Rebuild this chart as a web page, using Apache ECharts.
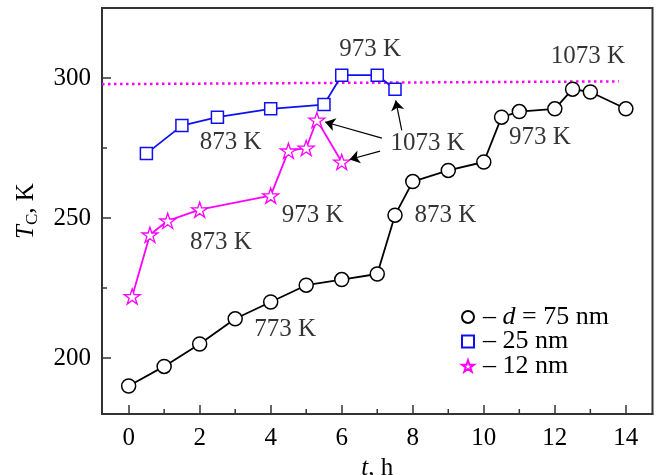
<!DOCTYPE html>
<html>
<head>
<meta charset="utf-8">
<script src="https://cdn.jsdelivr.net/npm/echarts@6/dist/echarts.min.js"></script>
<style>html,body{margin:0;padding:0;background:#fff;}#c{width:656px;height:475px;}</style>
</head>
<body>
<div id="c"></div>
<script>
// d = 75 nm
const tBlack = [0, 1, 2, 3, 4, 5, 6, 7, 7.5, 8, 9, 10, 10.5, 11, 12, 12.5, 13, 14];
const tcBlack = [190, 197, 205, 214, 220, 226, 228, 230, 251, 263, 267, 270, 286, 288, 289, 296, 295, 289];
// 25 nm
const tBlue = [0.5, 1.5, 2.5, 4, 5.5, 6, 7, 7.5];
const tcBlue = [273, 283, 286, 289, 290.5, 301, 301, 296];
// 12 nm
const tMag = [0.1, 0.6, 1.1, 2, 4, 4.5, 5, 5.3, 6];
const tcMag = [222, 244, 249, 253, 258, 274, 275, 285, 270];
// dotted reference line
const tRef = [-0.75, 13.8];
const tcRef = [297.8, 298.8];
// axis ticks
const xMajor = [0, 2, 4, 6, 8, 10, 12, 14];
const xMinor = [1, 3, 5, 7, 9, 11, 13];
const yMajor = [200, 250, 300];
const yMinor = [225, 275];
// annotations
const annText = ['973 K', '1073 K', '873 K', '1073 K', '973 K', '873 K', '773 K', '873 K', '973 K'];
const annX = [6.8, 12.93, 2.87, 8.42, 5.18, 2.6, 4.41, 8.92, 11.58];
const annY = [310.2, 307.7, 277.1, 276.6, 251, 241.4, 210.1, 251, 278.9];
// arrows (from label to point)
const arrowFrom = [[7.69, 281.3], [7.13, 278.5], [7.08, 273.9]];
const arrowTo = [[7.52, 292], [5.53, 284.3], [6.22, 270.9]];

const X_MIN = -0.75, X_MAX = 14.75, Y_MIN = 180, Y_MAX = 325;
const STAR = 'path://M50 0 L61.23 34.55 L97.55 34.55 L68.17 55.9 L79.39 90.45 L50 69.1 L20.61 90.45 L31.83 55.9 L2.45 34.55 L38.77 34.55 Z';
const FONT = 'Liberation Serif';
const INK = '#000';
const FRAME = '#333';
const zip = (a, b) => a.map((v, i) => [v, b[i]]);

const chart = echarts.init(document.getElementById('c'), null, {renderer: 'canvas'});
chart.setOption({
  animation: false,
  textStyle: {fontFamily: FONT},
  grid: {left: 102, top: 8, right: 3.5, bottom: 61, show: true, borderColor: FRAME, borderWidth: 2,
    backgroundColor: 'transparent', containLabel: false, outerBoundsMode: 'none'},
  xAxis: {
    type: 'value', min: X_MIN, max: X_MAX,
    axisLine: {show: true, onZero: false, lineStyle: {color: FRAME, width: 2}},
    splitLine: {show: false},
    name: '{i|t}{n|, h}', nameLocation: 'middle', nameGap: 33,
    nameTextStyle: {fontFamily: FONT, fontSize: 25, color: INK,
      rich: {i: {fontStyle: 'italic', fontFamily: FONT, fontSize: 25, color: INK}, n: {fontFamily: FONT, fontSize: 25, color: INK}}},
    axisTick: {show: true, inside: true, length: 9, lineStyle: {color: FRAME, width: 1.5}, customValues: xMajor},
    axisLabel: {show: true, margin: 12, fontFamily: FONT, fontSize: 25, color: INK, customValues: xMajor}
  },
  yAxis: {
    type: 'value', min: Y_MIN, max: Y_MAX,
    axisLine: {show: true, onZero: false, lineStyle: {color: FRAME, width: 2}},
    splitLine: {show: false},
    name: '{i|T}{s|C}{n|, K}', nameLocation: 'middle', nameGap: 61, nameRotate: 90,
    nameTextStyle: {fontFamily: FONT, fontSize: 25, color: INK,
      rich: {
        i: {fontStyle: 'italic', fontFamily: FONT, fontSize: 25, color: INK},
        s: {fontFamily: FONT, fontSize: 17, color: INK, padding: [12, 0, 0, 0]},
        n: {fontFamily: FONT, fontSize: 25, color: INK}
      }},
    axisTick: {show: true, inside: true, length: 9, lineStyle: {color: FRAME, width: 1.5}, customValues: yMajor},
    axisLabel: {show: true, margin: 11, fontFamily: FONT, fontSize: 25, color: INK, customValues: yMajor}
  },
  legend: {
    orient: 'vertical', left: 461, top: 304, padding: 0, itemGap: -1.5, itemWidth: 12, itemHeight: 12,
    selectedMode: false,
    data: [{name: 'd75', icon: 'circle'}, {name: 'd25', icon: 'rect'}, {name: 'd12', icon: STAR}],
    formatter: function (n) {
      if (n === 'd75') return '{n|– }{i|d}{n| = 75 nm}';
      if (n === 'd25') return '{n|– 25 nm}';
      return '{n|– 12 nm}';
    },
    textStyle: {fontFamily: FONT, fontSize: 26, color: INK, lineHeight: 22, padding: [0, 0, 0, 4],
      rich: {n: {fontFamily: FONT, fontSize: 26, lineHeight: 22, color: INK}, i: {fontFamily: FONT, fontSize: 26, lineHeight: 22, fontStyle: 'italic', color: INK}}}
  },
  series: [
    {
      name: 'ref', type: 'line', data: zip(tRef, tcRef), symbol: 'none', silent: true,
      lineStyle: {color: '#ff00ff', width: 2.5, type: [2.5, 3.5]}, z: 1
    },
    {
      name: 'd75', type: 'line', data: zip(tBlack, tcBlack), symbol: 'circle', symbolSize: 14, showAllSymbol: true,
      lineStyle: {color: INK, width: 1.8}, itemStyle: {color: '#fff', borderColor: INK, borderWidth: 1.5}, z: 3
    },
    {
      name: 'd25', type: 'line', data: zip(tBlue, tcBlue), symbol: 'rect', symbolSize: 12, showAllSymbol: true,
      lineStyle: {color: '#1010ee', width: 1.8}, itemStyle: {color: '#fff', borderColor: '#1010ee', borderWidth: 1.5}, z: 3
    },
    {
      name: 'd12', type: 'line', data: zip(tMag, tcMag), symbol: STAR, symbolSize: 16, symbolKeepAspect: true, showAllSymbol: true,
      lineStyle: {color: '#ff00ff', width: 1.8}, itemStyle: {color: '#fff', borderColor: '#ff00ff', borderWidth: 1.3}, z: 3
    },
    {
      name: 'arrows', type: 'lines', coordinateSystem: 'cartesian2d', silent: true, z: 4,
      symbol: ['none', 'arrow'], symbolSize: [0, 10],
      lineStyle: {color: INK, width: 1.2, opacity: 1},
      data: arrowFrom.map((f, i) => ({coords: [f, arrowTo[i]]}))
    },
    {
      name: 'ann', type: 'scatter', symbolSize: 0, silent: true, z: 5,
      label: {show: true, position: 'inside', formatter: '{b}', fontFamily: FONT, fontSize: 25, color: INK},
      data: annText.map((t, i) => ({name: t, value: [annX[i], annY[i]]}))
    }
  ]
});

// minor (short) inward ticks, placed through the series' own coordinate system
try {
  const finder = {seriesIndex: 1};
  const mk = (p, dx, dy) => ({type: 'line', z: 100, silent: true,
    shape: {x1: p[0], y1: p[1], x2: p[0] + dx, y2: p[1] + dy},
    style: {stroke: FRAME, lineWidth: 1.5}});
  const els = [];
  xMinor.forEach(v => els.push(mk(chart.convertToPixel(finder, [v, Y_MIN]), 0, -5)));
  yMinor.forEach(v => els.push(mk(chart.convertToPixel(finder, [X_MIN, v]), 5, 0)));
  chart.setOption({graphic: els});
} catch (e) { /* keep main chart */ }
</script>
</body>
</html>
